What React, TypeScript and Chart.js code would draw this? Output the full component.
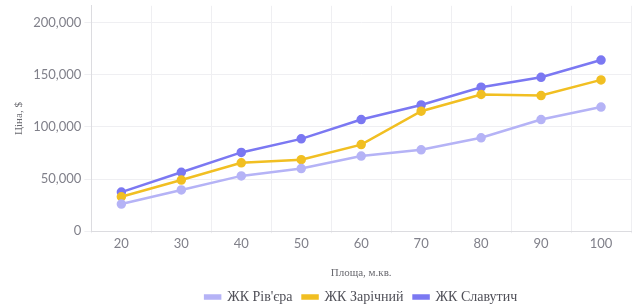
import React, { useEffect, useRef } from "react";
import { Chart, registerables } from "chart.js";

Chart.register(...registerables);

const categories = ["20", "30", "40", "50", "60", "70", "80", "90", "100"];
const rivieraValues = [26000, 39500, 53000, 60000, 72000, 78000, 89500, 107000, 119000];
const zarichnyValues = [33000, 49000, 65500, 68500, 83000, 115000, 131000, 130000, 145000];
const slavutychValues = [37500, 56500, 75500, 88500, 107000, 121000, 138000, 147500, 164000];
const yTickValues = [0, 50000, 100000, 150000, 200000];
const seriesNames = ["ЖК Рів'єра", "ЖК Зарічний", "ЖК Славутич"];
const yTitle = "Ціна, $";
const xTitle = "Площа, м.кв.";

export default function App() {
  const ref = useRef<HTMLCanvasElement | null>(null);
  useEffect(() => {
    document.body.style.margin = "0";
    const ctx = ref.current!;
    const colors = ["#b5b3f6", "#f1bf22", "#7b78f2"];
    const data = [rivieraValues, zarichnyValues, slavutychValues];
    const chart = new Chart(ctx, {
      type: "line",
      data: {
        labels: categories,
        datasets: data.map((d, i) => ({
          label: seriesNames[i],
          data: d,
          borderColor: colors[i],
          backgroundColor: colors[i],
          pointBackgroundColor: colors[i],
          pointBorderColor: colors[i],
          borderWidth: 2.5,
          pointRadius: 3.5,
          tension: 0,
          fill: false,
        })),
      },
      options: {
        animation: false,
        responsive: false,
        layout: { autoPadding: false, padding: { left: 13, right: 2, top: 0, bottom: 0 } },
        scales: {
          x: {
            offset: true,
            grid: { color: "#efeff2", offset: true, tickLength: 2 },
            border: { color: "#dcdce0" },
            ticks: { font: { family: "Lato", size: 13 }, color: "#80808a", padding: 3 },
            title: {
              display: true,
              text: xTitle,
              font: { family: "Liberation Serif", size: 11 },
              color: "#6a6a70",
              padding: { top: 12, bottom: 0 },
            },
          },
          y: {
            min: 0,
            max: 216000,
            grid: { color: "#efeff2", tickLength: 7 },
            border: { color: "#dcdce0" },
            afterBuildTicks: (scale: any) => {
              scale.ticks = yTickValues.map((v) => ({ value: v }));
            },
            ticks: {
              font: { family: "Lato", size: 13 },
              color: "#80808a",
              padding: 3,
              callback: (v: any) => Number(v).toLocaleString("en-US"),
            },
            title: {
              display: true,
              text: yTitle,
              font: { family: "Liberation Serif", size: 11 },
              color: "#6a6a70",
              padding: { top: 0, bottom: 4 },
            },
          },
        },
        plugins: {
          legend: {
            position: "bottom",
            fullSize: false,
            labels: {
              boxWidth: 15,
              boxHeight: 3,
              padding: 10,
              font: { family: "Liberation Serif", size: 14 },
              color: "#505058",
            },
          },
          tooltip: { enabled: false },
        },
      },
    });
    return () => chart.destroy();
  }, []);
  return (
    <div style={{ width: 633, height: 304, overflow: "hidden" }}>
      <canvas ref={ref} width={633} height={319} style={{ display: "block", marginTop: -5 }} />
    </div>
  );
}
